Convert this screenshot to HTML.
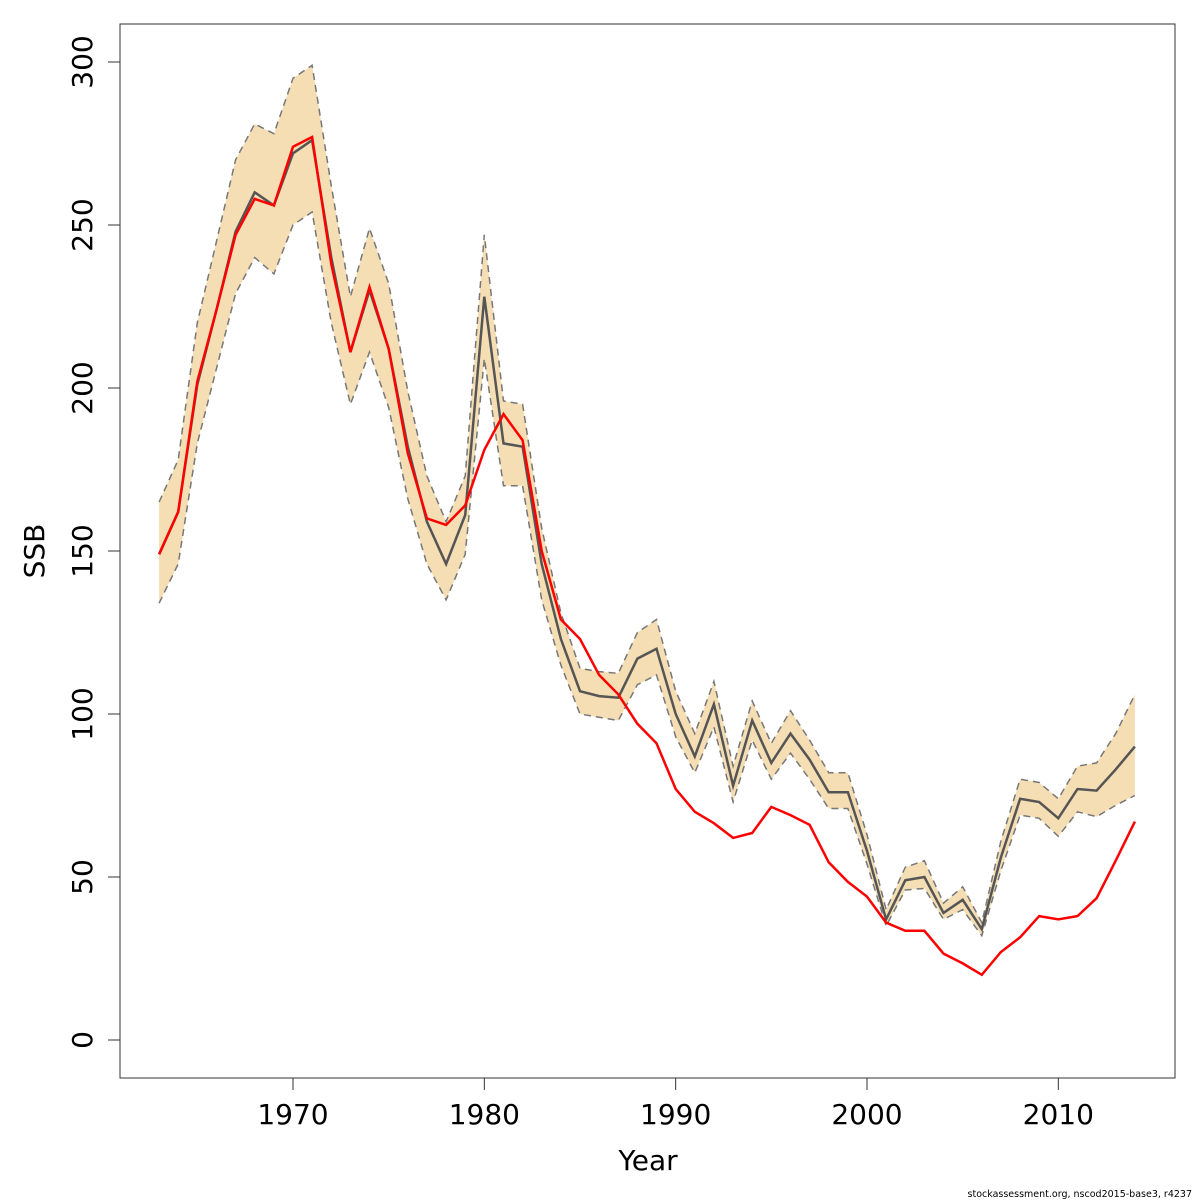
<!DOCTYPE html>
<html><head><meta charset="utf-8"><style>
html,body{margin:0;padding:0;background:#fff;}
svg{display:block;font-family:"DejaVu Sans","Liberation Sans",sans-serif;}
</style></head><body>
<svg id="chart" width="1200" height="1200" viewBox="0 0 1200 1200" xmlns="http://www.w3.org/2000/svg">
<rect x="120" y="24" width="1055" height="1054" fill="none" stroke="#333" stroke-width="1"/>
<g id="layer"></g>
<text x="648" y="1170" font-size="28" text-anchor="middle">Year</text>
<text transform="translate(44,551) rotate(-90)" font-size="28" text-anchor="middle">SSB</text>
<text x="1192" y="1197" font-size="9.5" text-anchor="end">stockassessment.org, nscod2015-base3, r4237</text>
</svg>
<script>
const years=[];for(let y=1963;y<=2014;y++)years.push(y);
const ssb=[149,162,201,224,248,260,256,272,276,240,211,230,212,182,159,146,161,228,183,182,146,123,107,105.5,105,117,120,100,87,103,78,98,85,94,86,76,76,58,37,49,50,39,43,34,56,74,73,68,77,76.5,83,90];
const upper=[165,178,220,245,270,281,278,295,299,262,228,249,232,199,173,159,173,247,196,195,157,131,114,113,112.5,125,129,107,94,110,84,104,91,101,92,82,82,63,40,53,55,42,47,36,61,80,79,74,84,85,94,106];
const lower=[134,146,183,206,229,240,235,250,254,220,195,211,194,166,146,135,149,209,170,170,135,115,100,99,98,109,112,93,82,96,73,92,80,88,80,71,71,54,35,46,46.5,37,40,32,52,69,68,62.5,70,68.5,72,75];
const red=[149,162,202,224,247,258,256,274,277,238,211,231,212,180,160,158,164,181,192,184,150,129,123,112,106,97,91,77,70,66.5,62,63.5,71.5,69,66,54.5,48.5,44,36,33.5,33.5,26.5,23.5,20,27,31.5,38,37,38,43.5,55,67];
const xTicks=[1970,1980,1990,2000,2010];
const yTicks=[0,50,100,150,200,250,300];
const X=v=>293+(v-1970)*19.133;
const Y=v=>1040-v*3.26;
const NS="http://www.w3.org/2000/svg";
const g=document.getElementById('layer');
function mk(t,a){const e=document.createElementNS(NS,t);for(const k in a)e.setAttribute(k,a[k]);g.appendChild(e);return e;}
const pts=a=>a.map((v,i)=>X(years[i]).toFixed(1)+','+Y(v).toFixed(1));
let band=mk('polygon',{points:pts(upper).concat(pts(lower).reverse()).join(' '),fill:'#f5deb3',stroke:'none'});


let up=mk('polyline',{points:pts(upper).join(' '),fill:'none',stroke:'#777','stroke-width':1.5,'stroke-dasharray':'7,5'});


let lo=mk('polyline',{points:pts(lower).join(' '),fill:'none',stroke:'#777','stroke-width':1.5,'stroke-dasharray':'7,5'});


let sl=mk('polyline',{points:pts(ssb).join(' '),fill:'none',stroke:'#555','stroke-width':2.5});


let rl=mk('polyline',{points:pts(red).join(' '),fill:'none',stroke:'#ff0000','stroke-width':2.5});


xTicks.forEach(t=>{
  let l=mk('line',{x1:X(t),x2:X(t),y1:1078,y2:1090,stroke:'#333'});
  
  
  let tx=mk('text',{x:X(t),y:1124,'font-size':28,'text-anchor':'middle'});tx.textContent=t;
  
  
});
yTicks.forEach(t=>{
  let l=mk('line',{x1:108,x2:120,y1:Y(t),y2:Y(t),stroke:'#333'});
  
  
  let tx=mk('text',{transform:`translate(92,${Y(t)}) rotate(-90)`,'font-size':28,'text-anchor':'middle'});tx.textContent=t;
  
  
});
</script>
</body></html>
